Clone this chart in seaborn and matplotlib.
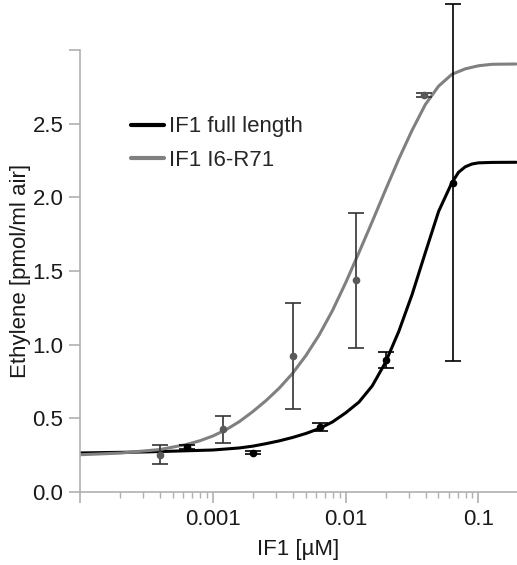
import numpy as np
import pandas as pd
import matplotlib
matplotlib.use("Agg")
import matplotlib.pyplot as plt
import seaborn as sns
from matplotlib.ticker import LogLocator, NullFormatter, FixedFormatter, FixedLocator

# measured points (mean +/- error)
full_x = [0.00064, 0.002, 0.0064, 0.02, 0.064]
full_y = [0.305, 0.265, 0.44, 0.895, 2.10]
full_err = [0.014, 0.01, 0.025, 0.055, 1.21]

short_x = [0.0004, 0.0012, 0.004, 0.012, 0.039]
short_y = [0.253, 0.425, 0.925, 1.437, 2.696]
short_err = [0.065, 0.09, 0.36, 0.46, 0.015]

# fitted curves
full_fit_x = [0.0001, 0.000316, 0.001, 0.001585, 0.001995, 0.002512, 0.003162,
              0.003981, 0.005012, 0.00631, 0.007943, 0.01, 0.012589, 0.015849,
              0.019953, 0.025119, 0.031623, 0.039811, 0.050119, 0.063096,
              0.070795, 0.079433, 0.089125, 0.1, 0.125893, 0.192]
full_fit_y = [0.265, 0.272, 0.285, 0.299, 0.311, 0.328, 0.347,
              0.37, 0.397, 0.43, 0.475, 0.537, 0.61, 0.72,
              0.88, 1.09, 1.34, 1.625, 1.905, 2.10,
              2.17, 2.207, 2.226, 2.234, 2.237, 2.238]

short_fit_x = [0.0001, 0.0002, 0.000398, 0.000631, 0.000794, 0.001, 0.001259,
               0.001585, 0.001995, 0.002512, 0.003162, 0.003981, 0.005012,
               0.00631, 0.007943, 0.01, 0.012589, 0.015849, 0.019953, 0.025119,
               0.031623, 0.039811, 0.050119, 0.063096, 0.079433, 0.1,
               0.125893, 0.192]
short_fit_y = [0.253, 0.264, 0.288, 0.322, 0.347, 0.38, 0.423,
               0.478, 0.545, 0.62, 0.705, 0.805, 0.925,
               1.065, 1.23, 1.42, 1.625, 1.835, 2.05, 2.26,
               2.455, 2.63, 2.755, 2.835, 2.872, 2.893,
               2.903, 2.905]

y_ticks = [0.0, 0.5, 1.0, 1.5, 2.0, 2.5, 3.0]
y_tick_labels = ["0.0", "0.5", "1.0", "1.5", "2.0", "2.5", ""]
x_ticks = [0.0001, 0.001, 0.01, 0.1]
x_tick_labels = ["", "0.001", "0.01", "0.1"]

sns.set_style("ticks")
plt.rcParams['font.family'] = ['Liberation Sans', 'DejaVu Sans']

fig = plt.figure(figsize=(5.17, 5.65), dpi=100)
ax = fig.add_axes([80 / 517, 73 / 565, 437 / 517, 442 / 565])

fits = pd.DataFrame({
    "x": full_fit_x + short_fit_x,
    "y": full_fit_y + short_fit_y,
    "construct": ["IF1 full length"] * len(full_fit_x) + ["IF1 I6-R71"] * len(short_fit_x),
})

sns.lineplot(data=fits, x="x", y="y", hue="construct",
             palette={"IF1 full length": "black", "IF1 I6-R71": "#808080"},
             linewidth=2.2, sort=False, estimator=None, ax=ax)

ax.errorbar(short_x, short_y, yerr=short_err, fmt="o", color="#5a5a5a",
            ecolor="#333333", markersize=4.5, capsize=6, elinewidth=1.2,
            capthick=1.2, clip_on=False, zorder=3)
ax.errorbar(full_x, full_y, yerr=full_err, fmt="o", color="black",
            ecolor="black", markersize=4.5, capsize=6, elinewidth=1.2,
            capthick=1.2, clip_on=False, zorder=3)

ax.set_xscale("log")
ax.set_xlim(0.0001, 0.195)
ax.set_ylim(0, 3.0)

ax.xaxis.set_major_locator(FixedLocator(x_ticks))
ax.xaxis.set_major_formatter(FixedFormatter(x_tick_labels))
ax.xaxis.set_minor_locator(LogLocator(base=10, subs=np.arange(2, 10)))
ax.xaxis.set_minor_formatter(NullFormatter())
ax.set_yticks(y_ticks)
ax.set_yticklabels(y_tick_labels)

spine_col = "#b0b0b0"
sns.despine(ax=ax)
for side in ["left", "bottom"]:
    ax.spines[side].set_color(spine_col)
    ax.spines[side].set_linewidth(1.2)
ax.tick_params(axis="both", which="major", length=8, width=1.2,
               color=spine_col, labelsize=16, labelcolor="#1a1a1a", pad=4)
ax.tick_params(axis="x", which="minor", length=4, width=1.0, color=spine_col)

ax.set_xlabel("IF1 [\u00b5M]", fontsize=16, color="#1a1a1a", labelpad=7)
ax.set_ylabel("Ethylene [pmol/ml air]", fontsize=16, color="#1a1a1a", labelpad=1)

leg = ax.legend(loc="upper left", bbox_to_anchor=(0.07, 0.895), frameon=False,
                fontsize=16, handlelength=1.5, handletextpad=0.25, labelspacing=0.55,
                title=None)
for line in leg.get_lines():
    line.set_linewidth(3)

fig.savefig("out.png", dpi=100)
